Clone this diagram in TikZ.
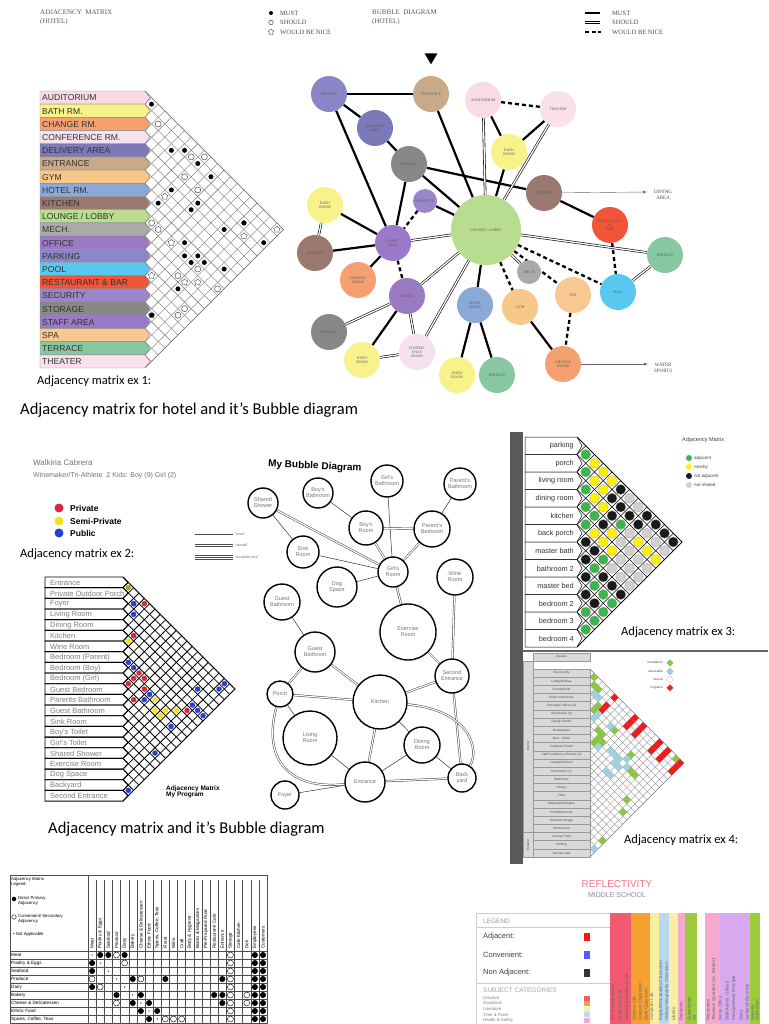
\documentclass[tikz,border=0pt]{standalone}
\usepackage{fontspec}
\setmainfont{Liberation Serif}
\setsansfont{Liberation Sans}
\newfontfamily\calfont{Carlito}
\usetikzlibrary{shapes.geometric,backgrounds}
\definecolor{cAud}{HTML}{F9DBE6}\definecolor{cBat}{HTML}{F8F28A}\definecolor{cCha}{HTML}{F4A070}
\definecolor{cCon}{HTML}{F5E2EC}\definecolor{cDel}{HTML}{7C79B8}\definecolor{cEnt}{HTML}{C9AA88}
\definecolor{cGym}{HTML}{F8C888}\definecolor{cHot}{HTML}{8AA8D8}\definecolor{cKit}{HTML}{9A7A70}
\definecolor{cLou}{HTML}{B8DC90}\definecolor{cMec}{HTML}{AAAAAA}\definecolor{cOff}{HTML}{9A7AC0}
\definecolor{cPar}{HTML}{8A86C8}\definecolor{cPoo}{HTML}{58C8F0}\definecolor{cRes}{HTML}{F0553A}
\definecolor{cSec}{HTML}{9A86C8}\definecolor{cSto}{HTML}{888888}\definecolor{cSta}{HTML}{9A7AC8}
\definecolor{cSpa}{HTML}{F8C890}\definecolor{cTer}{HTML}{88C8A0}\definecolor{cThe}{HTML}{F9E0EA}
\definecolor{e3g}{HTML}{3DB54A}\definecolor{e3y}{HTML}{FFF200}\definecolor{e3k}{HTML}{1A1A1A}\definecolor{e3r}{HTML}{D0D0D0}
\definecolor{e4g}{HTML}{8CC63F}\definecolor{e4b}{HTML}{9FD0E0}\definecolor{e4r}{HTML}{EE1C1C}
\definecolor{hred}{HTML}{D9283A}\definecolor{hyel}{HTML}{F2E21C}\definecolor{hblu}{HTML}{2A3FD6}\definecolor{holi}{HTML}{B09A2A}
\definecolor{rPink}{HTML}{F25A72}\definecolor{rOra}{HTML}{F5A030}\definecolor{rYel}{HTML}{F8F0A0}
\definecolor{rBlu}{HTML}{B8D8F0}\definecolor{rPi2}{HTML}{F5A8D0}\definecolor{rLav}{HTML}{D8A8F0}\definecolor{rGre}{HTML}{9CCC3C}
\newcommand\snapnode[7]{%
 \pgfmathtruncatemacro\snD{max(1,round((#4-#1)/#3))}%
 \pgfmathtruncatemacro\snS{round((#5-#2)/#3-1)}%
 \pgfmathtruncatemacro\snS{ifthenelse(mod(\snD+\snS,2)==0,\snS,\snS+1)}%
 \node[#6] (#7) at ({#1+\snD*#3},{#2+(\snS+1)*#3}) {};}
\tikzset{
 e1b/.style={circle,fill=black,inner sep=0,minimum size=5},
 e1o/.style={circle,draw=black!70,fill=white,inner sep=0,minimum size=6,line width=0.5},
 e1s/.style={star,star points=5,draw=black!70,fill=white,inner sep=0,minimum size=7,line width=0.4},
 tbb/.style={circle,fill=black,inner sep=0,minimum size=6},
 tbo/.style={circle,draw=black,fill=white,line width=0.4,inner sep=0,minimum size=6},
 tbn/.style={circle,fill=black,inner sep=0,minimum size=1.3},
 bub/.style={circle,inner sep=0,minimum size=36,font=\fontsize{3.8}{4.2}\selectfont,text=black!65,align=center},
 must/.style={line width=2.2},
 should/.style={double distance=1.3pt,line width=0.6},
 nice/.style={line width=2.3,dash pattern=on 4pt off 3pt},
 hb/.style={circle,draw=black,line width=1.4,fill=white,inner sep=0,font=\sffamily\fontsize{5.5}{6}\selectfont,text=black!55,align=center},
 hl/.style={line width=0.5,black!80},
 hd/.style={double distance=1.2pt,line width=0.45,black!80},
 capt/.style={font=\calfont\fontsize{12.5}{14}\selectfont,anchor=west,inner sep=0},
 bigcapt/.style={font=\calfont\fontsize{16.5}{18}\selectfont,anchor=west,inner sep=0},
}
\begin{document}
\begin{tikzpicture}[x=1pt,y=-1pt]
\useasboundingbox (0,0) rectangle (768,1024);
\begin{pgfonlayer}{background}
\fill[white] (0,0) rectangle (768,1024);
\end{pgfonlayer}
%================ EX 1 =================
\node[anchor=north west,inner sep=0,align=left,font=\fontsize{7}{8.5}\selectfont,text=black!65] (t1) at (40,10) {ADJACENCY\ \ MATRIX\\(HOTEL)};
\node[e1b,minimum size=4] (lg1) at (271,13) {};
\node[e1o,minimum size=4.5] (lg2) at (271,22.5) {};
\node[e1s,minimum size=6] (lg3) at (271,32) {};
\node[anchor=west,inner sep=0,font=\fontsize{6.5}{7}\selectfont,text=black!70] (lt1) at (280,13) {MUST};
\node[anchor=west,inner sep=0,font=\fontsize{6.5}{7}\selectfont,text=black!70] (lt2) at (280,22.5) {SHOULD};
\node[anchor=west,inner sep=0,font=\fontsize{6.5}{7}\selectfont,text=black!70] (lt3) at (280,32) {WOULD BE NICE};
\foreach \lab/\col [count=\i from 0] in {AUDITORIUM/cAud,BATH RM./cBat,CHANGE RM./cCha,CONFERENCE RM./cCon,DELIVERY AREA/cDel,ENTRANCE/cEnt,GYM/cGym,HOTEL RM./cHot,KITCHEN/cKit,{LOUNGE / LOBBY}/cLou,MECH./cMec,OFFICE/cOff,PARKING/cPar,POOL/cPoo,RESTAURANT \& BAR/cRes,SECURITY/cSec,STORAGE/cSto,STAFF AREA/cSta,SPA/cSpa,TERRACE/cTer,THEATER/cThe}{
 \pgfmathsetmacro\yt{91+\i*13.19}
 \filldraw[fill=\col,draw=black!45,line width=0.4] (40,\yt) -- (145,\yt) -- (150,{\yt+6.6}) -- (145,{\yt+13.19}) -- (40,{\yt+13.19}) -- cycle;
 \node[anchor=west,inner sep=0,font=\sffamily\fontsize{8.6}{9}\selectfont,text=black!80] (e1l\i) at (42,{\yt+7}) {\lab};
}
\begin{scope}
\clip (145,91) -- (283.5,229.5) -- (145,368) -- cycle;
\foreach \k in {0,...,21}{
 \pgfmathsetmacro\yy{91+\k*13.19}
 \draw[black!55,line width=0.4] (145,\yy) -- ++(160,160);
 \draw[black!55,line width=0.4] (145,\yy) -- ++(160,-160);
}
\end{scope}
\draw[black!55,line width=0.5] (145,91) -- (283.5,229.5) -- (145,368);
\foreach \X/\Y/\t [count=\n] in {149/105/b,155/124/o,169/150/b,182/150/b,188/157/o,202/157/o,195/164/b,182/177/o,208/177/b,169/189/b,195/190/o,163/197/s,156/203/b,195/203/b,188/209/b,149/223/o,156/229/o,221/229/b,247/217/b,241/222/b,247/228/s,274/228/s,267/236/b,169/243/s,182/243/b,182/256/b,195/256/b,188/262/b,202/262/b,195/269/o,221/269/b,150/275/s,176/275/o,200/275/s,182/283/s,176/289/b,215/289/o,153/308/s,149/315/b,176/315/o,182/308/o}{
 \snapnode{145}{91}{6.595}{\X}{\Y}{e1\t}{d1-\n}
}
\node[capt] (c1) at (37,381) {Adjacency matrix ex 1:};
\node[bigcapt] (c1b) at (20,410) {Adjacency matrix for hotel and it’s Bubble diagram};
%================ BUBBLE (HOTEL) =================
\node[anchor=north west,inner sep=0,align=left,font=\fontsize{7}{8.5}\selectfont,text=black!65] (t2) at (372,10) {BUBBLE\ \ DIAGRAM\\(HOTEL)};
\draw[line width=2.2] (585,13) -- (600,13);
\draw[should] (585,22.5) -- (600,22.5);
\draw[nice,dash pattern=on 4pt off 2.5pt] (585,32) -- (601,32);
\node[anchor=west,inner sep=0,font=\fontsize{6.5}{7}\selectfont,text=black!70] (bl1) at (612,13) {MUST};
\node[anchor=west,inner sep=0,font=\fontsize{6.5}{7}\selectfont,text=black!70] (bl2) at (612,22.5) {SHOULD};
\node[anchor=west,inner sep=0,font=\fontsize{6.5}{7}\selectfont,text=black!70] (bl3) at (612,32) {WOULD BE NICE};
\node[isosceles triangle,shape border rotate=-90,fill=black,inner sep=0,minimum width=13,minimum height=11,isosceles triangle stretches] (tri) at (431,57) {};
\node[bub,fill=cPar] (par) at (329,94) {PARKING};
\node[bub,fill=cEnt] (ent) at (431,94) {ENTRANCE};
\node[bub,fill=cAud] (aud) at (483,100) {AUDITORIUM};
\node[bub,fill=cThe] (the) at (558,109) {THEATER};
\node[bub,fill=cDel] (del) at (375,128) {DELIVERY\\AREA};
\node[bub,fill=cBat] (bat) at (509,152) {BATH\\ROOM};
\node[bub,fill=cSto] (sto) at (409,164) {STORAGE};
\node[bub,fill=cKit] (kit) at (544,193) {KITCHEN};
\node[bub,fill=cSec,minimum size=24] (sec) at (425,201) {SECURITY};
\node[bub,fill=cBat] (batl) at (325,205) {BATH\\ROOM};
\node[bub,fill=cLou,minimum size=70] (lou) at (486,230) {LOUNGE / LOBBY};
\node[bub,fill=cRes] (res) at (610,225) {RESTAURANT\\\&\\BAR};
\node[bub,fill=cTer] (ter) at (665,255) {TERRACE};
\node[bub,fill=cSta] (sta) at (393,243) {STAFF\\AREA};
\node[bub,fill=cKit] (kitl) at (315,253) {KITCHEN};
\node[bub,fill=cMec,minimum size=24] (mec) at (529,272) {MECH};
\node[bub,fill=cCha] (cha) at (358,280) {CHANGE\\ROOM};
\node[bub,fill=cSpa] (spa) at (573,295) {SPA};
\node[bub,fill=cPoo] (poo) at (618,292) {POOL};
\node[bub,fill=cOff] (off) at (407,296) {OFFICE};
\node[bub,fill=cHot] (hot) at (475,305) {HOTEL\\ROOM};
\node[bub,fill=cGym] (gym) at (520,307) {GYM};
\node[bub,fill=cSto] (stol) at (329,332) {STORAGE};
\node[bub,fill=cCon] (con) at (417,352) {CONFER-\\ENCE\\ROOM};
\node[bub,fill=cBat] (batbl) at (362,360) {BATH\\ROOM};
\node[bub,fill=cCha] (chr) at (563,364) {CHANGE\\ROOM};
\node[bub,fill=cBat] (batb) at (457,375) {BATH\\ROOM};
\node[bub,fill=cTer] (terb) at (497,375) {TERRACE};
\coordinate (dining) at (647,192);
\coordinate (water) at (648,364);
\node[anchor=west,inner sep=0,align=center,font=\fontsize{5}{6}\selectfont,text=black!70] (dtx) at (654,195) {DINING\\AREA};
\node[anchor=west,inner sep=0,align=center,font=\fontsize{5}{6}\selectfont,text=black!70] (wtx) at (654,368) {WATER\\SPORTS};
\begin{pgfonlayer}{background}
\foreach \a/\b in {par/ent,par/del,par/sta,del/sto,ent/lou,sto/lou,sto/kit,sto/sta,aud/bat,the/bat,bat/lou,kit/res,sec/lou,batl/sta,kitl/sta,cha/sta,lou/hot,hot/batb,hot/terb,gym/chr,off/batbl}
 \draw[must] (\a) -- (\b);
\foreach \a/\b in {aud/lou,the/lou,lou/ter,lou/mec,lou/sta,lou/off,lou/con,off/stol,off/con,con/batbl,batl/kitl,poo/ter}
 \draw[should] (\a) -- (\b);
\foreach \a/\b in {aud/the,sec/sta,sta/off,lou/gym,lou/spa,lou/poo,res/poo,spa/chr}
 \draw[nice] (\a) -- (\b);
\end{pgfonlayer}
\draw[-latex,black!60,line width=0.4] (kit) -- (dining);
\draw[-latex,black!60,line width=0.4] (chr) -- (water);
%================ EX 2 =================
\node[anchor=west,inner sep=0,font=\sffamily\fontsize{8}{9}\selectfont,text=black!55] (w1) at (33,463) {Walkiria Cabrera};
\node[anchor=west,inner sep=0,font=\sffamily\fontsize{7}{8}\selectfont,text=black!55] (w2) at (33,476) {Winemaker/Tri-Athlete\ \ 2 Kids: Boy (9) Girl (2)};
\node[circle,fill=hred,inner sep=0,minimum size=9] (p1) at (59,508) {};
\node[circle,fill=hyel,inner sep=0,minimum size=9] (p2) at (59,521) {};
\node[circle,fill=hblu,inner sep=0,minimum size=9] (p3) at (59,533) {};
\node[anchor=west,inner sep=0,font=\sffamily\bfseries\fontsize{8.5}{9}\selectfont] (pt1) at (70,508) {Private};
\node[anchor=west,inner sep=0,font=\sffamily\bfseries\fontsize{8.5}{9}\selectfont] (pt2) at (70,521) {Semi-Private};
\node[anchor=west,inner sep=0,font=\sffamily\bfseries\fontsize{8.5}{9}\selectfont] (pt3) at (70,533) {Public};
\node[capt] (c2) at (20,554) {Adjacency matrix ex 2:};
\draw[black!70,line width=0.5] (195,534) -- (233,534);
\draw[black!70,line width=0.5] (195,544) -- (233,544) (195,546) -- (233,546);
\draw[black!70,line width=0.5] (195,555) -- (233,555) (195,557) -- (233,557) (195,559) -- (233,559);
\node[anchor=west,inner sep=0,font=\sffamily\fontsize{3.5}{4}\selectfont,text=black!60] (m1) at (235,534) {``must''};
\node[anchor=west,inner sep=0,font=\sffamily\fontsize{3.5}{4}\selectfont,text=black!60] (m2) at (235,545) {``should''};
\node[anchor=west,inner sep=0,font=\sffamily\fontsize{3.5}{4}\selectfont,text=black!60] (m3) at (235,557) {``would be nice''};
\foreach \lab [count=\i from 0] in {Entrance,Private Outdoor Porch,Foyer,Living Room,Dining Room,Kitchen,Wine Room,Bedroom (Parent),Bedroom (Boy),Bedroom (Girl),Guest Bedroom,Parents Bathroom,Guest Bathroom,Sink Room,Boy's Toilet,Girl's Toilet,Shared Shower,Exercise Room,Dog Space,Backyard,Second Entrance}{
 \pgfmathsetmacro\yt{577+\i*10.67}
 \draw[line width=0.9] (45,\yt) -- (123,\yt) -- (128,{\yt+5.33}) -- (123,{\yt+10.67}) -- (45,{\yt+10.67}) -- cycle;
 \node[anchor=west,inner sep=0,font=\sffamily\fontsize{7.5}{8}\selectfont,text=black!50] (e2l\i) at (50,{\yt+5.8}) {\lab};
}
\begin{scope}
\clip (123,577) -- (235,689) -- (123,801) -- cycle;
\foreach \k in {0,...,21}{
 \pgfmathsetmacro\yy{577+\k*10.67}
 \draw[line width=0.8] (123,\yy) -- ++(130,130);
 \draw[line width=0.8] (123,\yy) -- ++(130,-130);
}
\end{scope}
\draw[line width=1] (123,577) -- (235,689) -- (123,801);
\foreach \X/\Y/\c [count=\n] in {128/590/holi,134/596/hblu,133/606/hblu,144/606/hred,133/617/hblu,133/628/hblu,128/642/hyel,134/638/hred,128/663/hblu,133/669/hblu,138/675/hred,133/681/hred,144/680/hred,128/686/hred,144/691/hred,197/690/hblu,217/691/hblu,223/686/hblu,133/702/hred,144/702/hblu,149/697/hblu,155/702/hyel,154/712/hyel,165/712/hyel,160/717/hyel,175/712/hyel,186/712/hred,191/706/hblu,197/712/hblu,202/717/hblu,170/727/hblu,154/755/hblu,128/791/hblu}{
 \snapnode{123}{577}{5.335}{\X}{\Y}{circle,fill=\c,inner sep=0,minimum size=5.5}{d2-\n}
}
\node[anchor=west,inner sep=0,align=left,font=\sffamily\bfseries\fontsize{6.5}{6}\selectfont] (amp) at (166,792) {Adjacency Matrix\\My Program};
% hand bubble diagram
\node[anchor=west,inner sep=0,font=\sffamily\bfseries\fontsize{10}{11}\selectfont,rotate=-3] (mbd) at (268,464) {My Bubble Diagram};
\node[hb,minimum size=30] (sh) at (263,503) {Shared\\Shower};
\node[hb,minimum size=30] (bb) at (318,493) {Boy's\\Bathroom};
\node[hb,minimum size=32] (gb) at (387,481) {Girl's\\Bathroom};
\node[hb,minimum size=32] (pb) at (460,484) {Parent's\\Bathroom};
\node[hb,minimum size=34] (br) at (366,528) {Boy's\\Room};
\node[hb,minimum size=36] (pbr) at (432,529) {Parent's\\Bedroom};
\node[hb,minimum size=32] (sr) at (303,552) {Sink\\Room};
\node[hb,minimum size=30] (gr) at (393,572) {Girl's\\Room};
\node[hb,minimum size=40] (ds) at (337,587) {Dog\\Space};
\node[hb,minimum size=36] (wr) at (455,577) {Wine\\Room};
\node[hb,minimum size=36] (gba) at (282,602) {Guest\\Bathroom};
\node[hb,minimum size=56] (er) at (408,632) {Exercise\\Room};
\node[hb,minimum size=40] (gbe) at (315,652) {Guest\\Bedroom};
\node[hb,minimum size=34] (se) at (452,676) {Second\\Entrance};
\node[hb,minimum size=26] (po) at (280,694) {Porch};
\node[hb,minimum size=54] (ki) at (380,702) {Kitchen};
\node[hb,minimum size=54] (lr) at (310,738) {Living\\Room};
\node[hb,minimum size=36] (dr) at (422,745) {Dining\\Room};
\node[hb,minimum size=40] (en) at (365,782) {Entrance};
\node[hb,minimum size=28] (by) at (462,778) {Back\\yard};
\node[hb,minimum size=28] (fo) at (285,795) {Foyer};
\begin{pgfonlayer}{background}
\foreach \a/\b in {sh/sr,bb/br,gb/gr,pb/pbr,sr/gr,ds/gr,gba/gbe,po/lr,lr/en,dr/en,dr/by,fo/en,ki/dr}
 \draw[hl] (\a) -- (\b);
\foreach \a/\b in {sh/gr,br/pbr,br/gr,pbr/gr,gr/er,wr/se,er/se,gbe/po,gbe/ki,po/ki,ki/se,ki/en,se/by,en/by}
 \draw[hd] (\a) -- (\b);
\draw[hd] (po) .. controls (262,760) and (290,790) .. (en);
\draw[hd] (ki) .. controls (470,710) and (480,750) .. (by);
\end{pgfonlayer}
\node[bigcapt] (c2b) at (48,829) {Adjacency matrix and it’s Bubble diagram};
%================ EX 3 =================
\fill[black!65] (510,432) rectangle (523,864);
\draw[black!60,line width=1.6] (523,651) -- (768,651);
\foreach \lab [count=\i from 0] in {parking,porch,living room,dining room,kitchen,back porch,master bath,bathroom 2,master bed,bedroom 2,bedroom 3,bedroom 4}{
 \pgfmathsetmacro\yt{437+\i*17.5}
 \draw[line width=0.5,fill=white] (525,\yt) -- (577,\yt) -- (582,{\yt+8.75}) -- (577,{\yt+17.5}) -- (525,{\yt+17.5}) -- cycle;
 \node[anchor=east,inner sep=0,font=\sffamily\fontsize{7.3}{8}\selectfont,text=black!80] (e3l\i) at (574,{\yt+9}) {\lab};
}
\begin{scope}
\clip (577,437) -- (682,542) -- (577,647) -- cycle;
\foreach \k in {0,...,12}{
 \pgfmathsetmacro\yy{437+\k*17.5}
 \draw[line width=0.6] (577,\yy) -- ++(120,120);
 \draw[line width=0.6] (577,\yy) -- ++(120,-120);
}
\end{scope}
\draw[line width=0.7] (577,437) -- (682,542) -- (577,647);
\foreach \dd/\cols in {1/{g,g,g,g,g,k,k,k,k,g,g},2/{y,y,y,g,y,k,g,g,k,g},3/{y,y,y,k,y,g,k,g,g},4/{y,k,k,y,y,r,k,g},5/{k,k,g,r,r,r,k},6/{r,k,r,r,r,r},7/{r,k,y,r,r},8/{k,r,y,r},9/{k,r,y},10/{k,r},11/{k}}{
 \foreach \c [count=\i from 0] in \cols {
  \node[circle,fill=e3\c,draw=black!40,line width=0.2,inner sep=0,minimum size=10] (d3-\dd-\i) at ({577+\dd*8.75},{437+(2*\i+\dd+1)*8.75}) {};
 }
}
\node[anchor=west,inner sep=0,font=\sffamily\fontsize{5.5}{6}\selectfont,text=black!75] (a3t) at (682,440) {Adjacency Matrix};
\foreach \c/\lab [count=\i from 0] in {e3g/adjacent,e3y/nearby,e3k/not adjacent,e3r/not related}{
 \node[circle,fill=\c,inner sep=0,minimum size=6] (a3d\i) at (689,{458+\i*9}) {};
 \node[anchor=west,inner sep=0,font=\sffamily\fontsize{4.5}{5}\selectfont,text=black!75] (a3l\i) at (694,{458+\i*9}) {\lab};
}
\node[capt] (c3) at (621,632) {Adjacency matrix ex 3:};
%================ EX 4 =================
\draw[black!40,fill=black!15,line width=0.4] (533,653) rectangle (590,661);
\node[inner sep=0,font=\sffamily\fontsize{3.2}{3.5}\selectfont,text=black!70] (sp) at (561.5,657) {Spaces};
\fill[black!15] (523,661) rectangle (533,857);
\draw[black!40,line width=0.4] (523,661) rectangle (533,832) (523,832) rectangle (533,857);
\node[rotate=90,inner sep=0,font=\sffamily\fontsize{3.2}{3.5}\selectfont,text=black!70] (int) at (528,746) {Interior};
\node[rotate=90,inner sep=0,font=\sffamily\fontsize{3.2}{3.5}\selectfont,text=black!70] (ext) at (528,845) {Exterior};
\foreach \lab [count=\i from 0] in {Client entry,{Lobby/Display},Receptionist,Client conference,Principals' offices (4),Secretaries (4),Design Studio,Bookkeeper,Spec. Writer,Computer Room,Staff Conference Rooms (2),{Lounge/Kitchen},Restrooms (2),Staff entry,Library,Files,{Materials/Samples},{Print/Workroom},General storage,Mechanical,Lounge Patio,Parking,Service area}{
 \pgfmathsetmacro\yt{669+\i*8.17-8.17}
 \draw[black!40,fill=black!15,line width=0.4] (533,{\yt+8.17}) rectangle (590,{\yt+16.34});
 \node[inner sep=0,font=\sffamily\fontsize{3.2}{3.5}\selectfont,text=black!70] (e4l\i) at (561.5,{\yt+12.3}) {\lab};
}
\begin{scope}
\clip (590,669) -- (684,763) -- (590,857) -- cycle;
\foreach \k in {0,...,23}{
 \pgfmathsetmacro\yy{669+\k*8.17}
 \draw[black!45,line width=0.35] (590,\yy) -- ++(110,110);
 \draw[black!45,line width=0.35] (590,\yy) -- ++(110,-110);
}
\end{scope}
\draw[black!45,line width=0.4] (590,669) -- (684,763) -- (590,857);
\foreach \zx/\zy/\c [count=\n] in {312/826/r,325/812/r,340/800/r,375/880/r,388/866/r,400/852/r,412/890/r,425/878/r,410/905/r,455/960/r,470/945/r,483/933/r,478/975/r,490/962/r,500/950/r,518/1020/r,530/1008/r,540/998/r,280/740/g,280/765/g,293/778/g,280/825/g,293/825/g,290/840/g,278/938/g,290/925/g,305/912/g,293/897/g,305/925/g,343/900/g,390/972/g,395/1012/g,410/1025/g,522/985/g,378/1108/g,365/1145/g,305/1232/g,280/790/b,300/790/b,293/850/b,280/865/b,330/885/b,290/950/b,330/945/b,345/960/b,360/972/b,375/985/b,385/998/b,343/1000/b,360/1012/b,320/1025/b,330/1038/b,280/1255/b}{
 \snapnode{590}{669}{4.085}{(500+\zx/3)}{(430+\zy/3)}{diamond,fill=e4\c,inner sep=0,minimum size=8.2}{d4-\n}
}
\foreach \c/\lab [count=\i from 0] in {e4g/mandatory,e4b/desireable,white/neutral,e4r/negative}{
 \node[diamond,fill=\c,draw=black!30,line width=0.2,inner sep=0,minimum size=7] (a4d\i) at (670,{663+\i*8.3}) {};
 \node[anchor=east,inner sep=0,font=\sffamily\fontsize{3.2}{3.5}\selectfont,text=black!70] (a4l\i) at (663,{663+\i*8.3}) {\lab};
}
\node[capt] (c4) at (624,840) {Adjacency matrix ex 4:};
%================ BOTTOM LEFT TABLE =================
\draw[black!70,line width=0.5] (10,875) rectangle (267,1030);
\draw[black!70,line width=0.5] (10,951) -- (267,951) (88,875) -- (88,1030);
\node[anchor=north west,inner sep=0,align=left,font=\sffamily\fontsize{4.3}{5.4}\selectfont] (lgt) at (11,877) {Adjacency Matrix\\Legend:};
\node[circle,fill=black,inner sep=0,minimum size=4.5] (lgb) at (14,899) {};
\node[circle,draw=black,inner sep=0,minimum size=4.5] (lgo) at (14,917) {};
\node[anchor=north west,inner sep=0,align=left,font=\sffamily\fontsize{4.3}{5.4}\selectfont] (lgbt) at (18,896) {Direct Primary\\Adjacency};
\node[anchor=north west,inner sep=0,align=left,font=\sffamily\fontsize{4.3}{5.4}\selectfont] (lgot) at (18,914) {Convenient/ Secondary\\Adjacency};
\node[anchor=north west,inner sep=0,align=left,font=\sffamily\fontsize{4.3}{5.4}\selectfont] (lgnt) at (13,932) {\textbullet\ Not Applicable};
\foreach \lab [count=\i from 0] in {Meat,Poultry \& Eggs,Seafood,Produce,Dairy,Bakery,Cheese \& Delicatessen,Ethnic Food,{Spices, Coffee, Teas},Floral,Wine,Craft,Body \& Hygiene,Books \& Magazines,Pre-Prepared Food,{Restaurant/ Cafe},Entrance,Storage,Cafe Kitchen,Deli,Employees,Customers}{
 \draw[black!70,line width=0.4] ({88+(\i+1)*8.14},880) -- ({88+(\i+1)*8.14},1030);
 \node[rotate=90,anchor=west,inner sep=0,font=\sffamily\fontsize{4.6}{5}\selectfont] (ch\i) at ({88+(\i+0.5)*8.14},949) {\lab};
}
\foreach \lab [count=\i from 0] in {Meat,Poultry \& Eggs,Seafood,Produce,Dairy,Bakery,Cheese \& Delicatessen,Ethnic Food,{Spices, Coffee, Teas}}{
 \draw[black!70,line width=0.4] (10,{951+(\i+1)*8}) -- (267,{951+(\i+1)*8});
 \node[anchor=west,inner sep=0,font=\sffamily\fontsize{4.6}{5}\selectfont] (rh\i) at (11,{955+\i*8}) {\lab};
}
\foreach \r/\c/\t [count=\n] in {0/0/n,0/1/b,0/2/b,0/3/o,0/4/b,0/17/o,0/20/b,0/21/b,1/0/b,1/1/n,1/4/o,1/17/o,1/20/b,1/21/b,2/0/b,2/2/n,2/17/o,2/20/b,2/21/b,3/0/o,3/3/n,3/5/b,3/6/o,3/9/b,3/16/b,3/17/o,3/20/b,3/21/b,4/0/b,4/1/o,4/4/n,4/17/o,4/20/b,4/21/b,5/3/b,5/5/n,5/6/b,5/15/b,5/16/b,5/17/o,5/19/o,5/20/b,5/21/b,6/3/o,6/5/b,6/6/n,6/7/b,6/16/b,6/17/o,6/19/o,6/20/b,6/21/b,7/6/b,7/7/n,7/8/b,7/17/o,7/20/b,7/21/b,8/7/b,8/8/n,8/9/o,8/10/o,8/11/o,8/17/o,8/20/b,8/21/b}{
 \node[tb\t] (tc\n) at ({88+(\c+0.5)*8.14},{955+\r*8}) {};
}
%================ REFLECTIVITY =================
\node[font=\sffamily\fontsize{10}{11}\selectfont,text=rPink!85] (rf1) at (617,884) {REFLECTIVITY};
\node[font=\sffamily\fontsize{7}{8}\selectfont,text=black!45] (rf2) at (617,895) {MIDDLE SCHOOL};
\draw[black!20,line width=0.4] (476,913) -- (610,913) (476,913) -- (476,1030);
\foreach \xa/\xb/\c in {610/631/rPink,631/650/rOra,650/659/rYel,659/665/rBlu,665/669/rBlu,669/678/rYel,678/685/rPi2,685/697/rGre,697/705/white,705/720/rPi2,720/750/rLav,750/760/rGre}
 \fill[\c] (\xa,913) rectangle (\xb,1030);
\foreach \xx/\lab [count=\n] in {613/2D Painting Studio,620/Graphic Art Lab,627/Drafting \& Modeling Lab,634/Science Lab,640/Science Classroom,646/Math Classroom,652/Computer Lab,661/{English/Vocabulary Classroom},667/{History/Geography Classroom},674/Library,681/Restroom,689/Greenhouse,694/Art,708/Restrooms,714/Teachers Quarters (inc. Restrm),720/Nurse Office,727/{Staff/Admin. Offices},734/{Principal/Asst Principal},741/Store,747/{Janitorial/Electrical},753/Security,757/Auditorium}
 \node[rotate=90,anchor=west,inner sep=0,font=\sffamily\fontsize{4.4}{5}\selectfont,text=black!60] (rs\n) at (\xx,1021) {\lab};
\node[anchor=west,inner sep=0,font=\sffamily\fontsize{6.5}{7}\selectfont,text=black!40] (rl0) at (483,921) {LEGEND};
\draw[black!20,line width=0.4] (476,927) -- (610,927);
\node[anchor=west,inner sep=0,font=\sffamily\fontsize{7.5}{8}\selectfont,text=black!75] (rl1) at (483,937) {Adjacent:};
\node[anchor=west,inner sep=0,font=\sffamily\fontsize{7.5}{8}\selectfont,text=black!75] (rl2) at (483,955) {Convenient:};
\node[anchor=west,inner sep=0,font=\sffamily\fontsize{7.5}{8}\selectfont,text=black!75] (rl3) at (483,973) {Non Adjacent:};
\node[fill=red!90!pink,inner sep=0,minimum width=6,minimum height=8] (rq1) at (587,937) {};
\node[fill=blue!65,inner sep=0,minimum width=6,minimum height=8] (rq2) at (587,955) {};
\node[fill=black!80!olive,inner sep=0,minimum width=6,minimum height=8] (rq3) at (587,973) {};
\draw[black!20,line width=0.4] (476,983) -- (610,983);
\node[anchor=west,inner sep=0,font=\sffamily\fontsize{6.5}{7}\selectfont,text=black!35] (rl4) at (483,990) {SUBJECT CATEGORIES};
\foreach \lab/\c [count=\i from 0] in {Creative/rPink,Analytical/rOra,Literature/rYel,Time \& Place/rBlu,Health \& Safety/rPi2}{
 \node[anchor=west,inner sep=0,font=\sffamily\fontsize{4.3}{5}\selectfont,text=black!50] (rc\i) at (483,{998+\i*5.6}) {\lab};
 \node[fill=\c,inner sep=0,minimum width=6,minimum height=5] (rcq\i) at (587,{998+\i*5.6}) {};
}
\end{tikzpicture}
\end{document}
